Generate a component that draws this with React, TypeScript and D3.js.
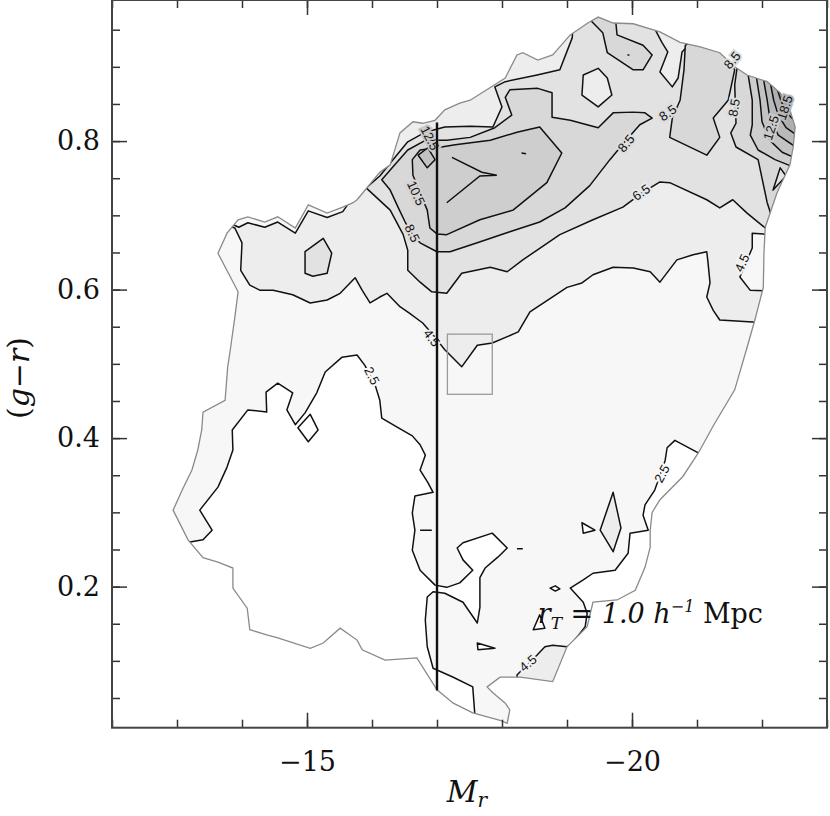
import { useEffect, useRef } from 'react';
import * as d3 from 'd3';

type Pt = [number, number];

// axis ticks
const xMajor = [-15, -20];
const xMinor = [-12, -13, -14, -15, -16, -17, -18, -19, -20, -21, -22, -23];
const yMajor = [0.2, 0.4, 0.6, 0.8];
const yMinor = [0.05, 0.1, 0.15, 0.2, 0.25, 0.3, 0.35, 0.4, 0.45, 0.5, 0.55, 0.6, 0.65, 0.7, 0.75, 0.8, 0.85, 0.9, 0.95];

// edge of the sampled region  [Mr, g-r]
const outline: Pt[] = [[-15.77,0.721],[-16.12,0.758],[-16.28,0.768],[-16.43,0.811],[-16.63,0.826],[-16.78,0.824],[-16.97,0.828],[-17.12,0.842],[-17.35,0.851],[-17.51,0.855],[-18.05,0.885],[-18.23,0.916],[-18.32,0.919],[-18.55,0.909],[-18.78,0.916],[-19.05,0.943],[-19.32,0.959],[-19.48,0.967],[-19.71,0.959],[-20.02,0.958],[-20.43,0.947],[-20.74,0.933],[-21.05,0.927],[-21.35,0.919],[-21.58,0.900],[-21.77,0.889],[-22.08,0.880],[-22.28,0.865],[-22.43,0.842],[-22.51,0.819],[-22.48,0.792],[-22.43,0.768],[-22.23,0.730],[-22.05,0.684],[-22.03,0.649],[-22.02,0.603],[-21.89,0.559],[-21.76,0.519],[-21.58,0.465],[-21.26,0.418],[-21.02,0.380],[-20.78,0.348],[-20.43,0.317],[-20.31,0.300],[-20.28,0.276],[-20.28,0.253],[-20.20,0.226],[-20.05,0.195],[-19.77,0.182],[-19.40,0.179],[-19.31,0.146],[-19.00,0.119],[-18.78,0.072],[-18.28,0.078],[-17.97,0.078],[-17.77,0.065],[-17.86,0.057],[-18.05,0.043],[-18.12,0.034],[-18.08,0.016],[-17.97,0.020],[-17.55,0.030],[-17.25,0.043],[-17.00,0.061],[-16.69,0.104],[-16.20,0.101],[-15.85,0.115],[-15.77,0.128],[-15.51,0.144],[-15.25,0.124],[-15.05,0.117],[-14.55,0.131],[-14.38,0.135],[-14.12,0.142],[-14.08,0.171],[-13.86,0.198],[-13.86,0.225],[-13.63,0.233],[-13.40,0.239],[-13.17,0.263],[-12.94,0.303],[-13.08,0.330],[-13.23,0.357],[-13.32,0.384],[-13.38,0.411],[-13.40,0.435],[-13.74,0.451],[-13.78,0.496],[-13.82,0.519],[-13.89,0.563],[-13.94,0.597],[-13.63,0.649],[-13.77,0.676],[-13.94,0.694],[-14.09,0.698],[-14.35,0.691],[-14.55,0.698],[-14.82,0.683],[-15.02,0.714],[-15.31,0.703],[-15.55,0.711],[-15.71,0.717]];

// below 2.5 (points outside the outline only close the rings)
const lowWest: Pt[] = [[-12.74,0.256],[-13.20,0.260],[-13.40,0.263],[-13.54,0.276],[-13.35,0.303],[-13.63,0.334],[-13.77,0.361],[-13.86,0.384],[-13.85,0.411],[-14.09,0.438],[-14.38,0.435],[-14.37,0.462],[-14.55,0.474],[-14.78,0.461],[-14.69,0.438],[-14.82,0.418],[-14.97,0.434],[-15.15,0.461],[-15.28,0.489],[-15.54,0.509],[-15.77,0.512],[-15.89,0.498],[-16.05,0.471],[-16.12,0.451],[-16.15,0.427],[-16.40,0.414],[-16.62,0.403],[-16.74,0.391],[-16.82,0.377],[-16.74,0.357],[-16.86,0.340],[-16.94,0.327],[-16.66,0.322],[-16.62,0.299],[-16.66,0.276],[-16.62,0.249],[-16.74,0.222],[-16.97,0.202],[-17.15,0.199],[-17.35,0.205],[-17.55,0.222],[-17.40,0.236],[-17.31,0.252],[-17.40,0.259],[-17.85,0.272],[-18.08,0.252],[-17.94,0.240],[-17.74,0.225],[-17.66,0.212],[-17.66,0.172],[-17.62,0.151],[-17.40,0.179],[-17.12,0.191],[-16.94,0.193],[-16.85,0.186],[-16.82,0.155],[-16.85,0.119],[-16.94,0.090],[-17.25,0.078],[-17.55,0.065],[-17.58,0.030],[-17.60,-0.007],[-12.74,-0.007]];
const lowEast: Pt[] = [[-21.51,0.370],[-21.02,0.380],[-20.66,0.397],[-20.54,0.387],[-20.51,0.370],[-20.35,0.330],[-20.20,0.310],[-20.17,0.296],[-20.25,0.276],[-19.97,0.272],[-19.94,0.245],[-19.74,0.222],[-19.40,0.218],[-19.25,0.209],[-19.05,0.198],[-19.25,0.179],[-19.31,0.164],[-19.28,0.146],[-19.12,0.128],[-19.51,0.074],[-21.35,0.182]];

// above 4.5
const above45: Pt[] = [[-13.35,0.700],[-13.89,0.683],[-14.00,0.663],[-13.98,0.626],[-14.12,0.606],[-14.28,0.599],[-14.48,0.599],[-14.78,0.593],[-15.05,0.582],[-15.31,0.586],[-15.51,0.595],[-15.74,0.616],[-15.85,0.599],[-15.97,0.582],[-16.12,0.590],[-16.23,0.595],[-16.43,0.577],[-16.58,0.568],[-16.78,0.555],[-16.94,0.539],[-17.12,0.519],[-17.38,0.496],[-17.62,0.525],[-17.85,0.528],[-18.25,0.543],[-18.43,0.570],[-19.00,0.603],[-19.23,0.609],[-19.40,0.620],[-19.71,0.630],[-20.02,0.629],[-20.28,0.624],[-20.43,0.610],[-20.69,0.640],[-20.94,0.647],[-21.15,0.651],[-21.17,0.636],[-21.20,0.609],[-21.15,0.590],[-21.25,0.572],[-21.35,0.559],[-21.92,0.556],[-22.43,0.546],[-23.05,0.990],[-13.35,0.990]];
const dipEast: Pt[] = [[-21.85,0.676],[-21.85,0.656],[-21.66,0.617],[-21.82,0.599],[-22.43,0.597],[-22.43,0.672]];
const armStrip: Pt[] = [[-13.80,0.690],[-13.95,0.684],[-14.09,0.690],[-14.35,0.684],[-14.55,0.691],[-14.82,0.676],[-15.02,0.706],[-15.31,0.697],[-15.55,0.705],[-15.75,0.730],[-15.75,0.760],[-13.60,0.760]];

// above 6.5
const above65: Pt[] = [[-15.91,0.737],[-16.28,0.707],[-16.48,0.674],[-16.55,0.653],[-16.55,0.626],[-16.74,0.610],[-16.92,0.597],[-17.15,0.595],[-17.38,0.622],[-17.82,0.630],[-18.08,0.624],[-18.32,0.640],[-18.89,0.674],[-19.40,0.694],[-19.86,0.711],[-20.15,0.730],[-20.43,0.745],[-20.58,0.744],[-21.15,0.721],[-21.35,0.710],[-21.55,0.721],[-21.77,0.703],[-22.05,0.683],[-22.58,0.673],[-23.05,0.990],[-19.12,0.990],[-19.08,0.939],[-18.89,0.896],[-18.54,0.889],[-18.05,0.880],[-17.89,0.873],[-18.00,0.846],[-17.86,0.819],[-17.51,0.820],[-17.12,0.819],[-16.82,0.812],[-16.55,0.799],[-16.37,0.780],[-16.12,0.753]];
const armBump: Pt[] = [[-14.97,0.651],[-15.25,0.669],[-15.38,0.649],[-15.31,0.622],[-15.09,0.618],[-14.97,0.622]];
const hexTop: Pt[] = [[-19.25,0.889],[-19.48,0.898],[-19.62,0.885],[-19.69,0.862],[-19.48,0.846],[-19.23,0.862]];
const notchNE: Pt[] = [[-20.28,0.963],[-20.46,0.933],[-20.55,0.920],[-20.43,0.893],[-20.62,0.873],[-20.71,0.885],[-20.77,0.920],[-20.89,0.931],[-20.97,0.956]];

// above 8.5
const core85: Pt[] = [[-16.15,0.748],[-16.28,0.734],[-16.40,0.711],[-16.51,0.691],[-16.62,0.674],[-16.74,0.663],[-17.00,0.651],[-17.20,0.651],[-17.62,0.663],[-18.12,0.678],[-18.58,0.691],[-18.97,0.710],[-19.35,0.740],[-19.66,0.775],[-19.89,0.799],[-20.12,0.822],[-20.31,0.831],[-20.20,0.838],[-20.02,0.839],[-19.71,0.838],[-19.48,0.818],[-19.05,0.828],[-18.77,0.832],[-18.77,0.865],[-18.55,0.871],[-18.12,0.869],[-18.05,0.859],[-18.15,0.835],[-17.89,0.818],[-17.51,0.805],[-17.15,0.801],[-16.82,0.801],[-16.55,0.788],[-16.35,0.768]];
const top85: Pt[] = [[-19.28,0.970],[-19.55,0.946],[-19.62,0.919],[-20.02,0.896],[-20.17,0.896],[-20.31,0.916],[-20.17,0.929],[-19.77,0.943],[-19.74,0.970]];
const ne85: Pt[] = [[-21.05,0.943],[-20.82,0.929],[-20.80,0.896],[-20.74,0.855],[-20.62,0.831],[-20.58,0.805],[-21.15,0.781],[-21.35,0.805],[-21.25,0.831],[-21.48,0.855],[-21.58,0.896],[-21.43,0.916],[-21.32,0.929]];
const rim85: Pt[] = [[-21.63,0.936],[-21.63,0.907],[-21.58,0.876],[-21.60,0.824],[-21.52,0.811],[-21.60,0.792],[-21.94,0.775],[-22.08,0.717],[-22.15,0.698],[-23.05,0.720],[-23.05,0.936]];
const rimIsle: Pt[] = [[-22.17,0.734],[-22.28,0.764],[-22.37,0.753]];

// above 10.5 and up
const core105: Pt[] = [[-17.00,0.791],[-17.28,0.795],[-17.82,0.801],[-18.23,0.812],[-18.58,0.819],[-18.92,0.784],[-18.69,0.744],[-18.17,0.707],[-17.66,0.694],[-17.15,0.674],[-17.00,0.675],[-16.89,0.683],[-16.85,0.707],[-16.74,0.730],[-16.63,0.754],[-16.62,0.775],[-16.74,0.788]];
const knot125: Pt[] = [[-16.71,0.781],[-16.86,0.791],[-16.97,0.775],[-16.85,0.764]];
const corner105: Pt[] = [[-21.78,0.893],[-21.85,0.855],[-21.85,0.822],[-21.82,0.808],[-21.94,0.788],[-22.20,0.775],[-22.46,0.766],[-23.05,0.761],[-23.05,0.936],[-21.78,0.936]];
const corner125: Pt[] = [[-21.91,0.888],[-21.97,0.855],[-22.00,0.826],[-22.12,0.801],[-22.31,0.785],[-22.49,0.778],[-23.05,0.775],[-23.05,0.936],[-21.91,0.936]];
const corner145: Pt[] = [[-22.02,0.885],[-22.08,0.855],[-22.12,0.831],[-22.25,0.808],[-22.52,0.792],[-23.05,0.790],[-23.05,0.936],[-22.02,0.936]];
const corner165: Pt[] = [[-22.12,0.882],[-22.18,0.855],[-22.25,0.835],[-22.37,0.818],[-22.55,0.807],[-23.05,0.800],[-23.05,0.936],[-22.12,0.936]];
const corner185: Pt[] = [[-22.21,0.877],[-22.29,0.855],[-22.37,0.839],[-22.55,0.823],[-23.05,0.820],[-23.05,0.936],[-22.21,0.936]];
const corner205: Pt[] = [[-22.29,0.870],[-22.38,0.851],[-22.55,0.838],[-23.05,0.835],[-23.05,0.936],[-22.29,0.936]];

// small closed contours
const isleA: Pt[] = [[-14.86,0.414],[-15.05,0.432],[-15.17,0.411],[-15.02,0.395]];
const isleB: Pt[] = [[-18.48,0.142],[-18.58,0.162],[-18.66,0.144]];
const isleC: Pt[] = [[-17.62,0.124],[-17.89,0.117],[-17.63,0.115]];
const isleD: Pt[] = [[-18.74,0.198],[-18.82,0.201],[-18.89,0.197],[-18.82,0.194]];
const isleE: Pt[] = [[-19.23,0.286],[-19.43,0.276],[-19.25,0.272]];
const bumpF: Pt[] = [[-19.51,0.276],[-19.71,0.327],[-19.83,0.279],[-19.71,0.247]];
const bumpG: Pt[] = [[-19.00,0.119],[-18.78,0.121],[-18.66,0.119],[-18.54,0.108],[-18.23,0.081],[-18.28,0.047],[-19.20,0.047],[-19.20,0.128]];

// open bits of contour
const spike: Pt[] = [[-17.23,0.778],[-17.69,0.758],[-17.92,0.754],[-17.66,0.753],[-17.15,0.717]];
const dashA: Pt[] = [[-16.74,0.276],[-16.92,0.276]];
const dashB: Pt[] = [[-18.23,0.251],[-18.32,0.251]];
const dotA: Pt[] = [[-19.93,0.916],[-19.96,0.916]];
const dotB: Pt[] = [[-18.30,0.784],[-18.37,0.783]];

const layers: { level: number; ring: Pt[] }[] = [
  { level: 0, ring: lowWest }, { level: 0, ring: lowEast },
  { level: 4.5, ring: above45 }, { level: 2.5, ring: dipEast }, { level: 2.5, ring: armStrip },
  { level: 6.5, ring: above65 }, { level: 6.5, ring: armBump },
  { level: 4.5, ring: hexTop }, { level: 4.5, ring: notchNE },
  { level: 8.5, ring: core85 }, { level: 8.5, ring: top85 }, { level: 8.5, ring: ne85 }, { level: 8.5, ring: rim85 },
  { level: 6.5, ring: rimIsle },
  { level: 10.5, ring: core105 }, { level: 12.5, ring: knot125 },
  { level: 10.5, ring: corner105 }, { level: 12.5, ring: corner125 }, { level: 14.5, ring: corner145 },
  { level: 16.5, ring: corner165 }, { level: 18.5, ring: corner185 }, { level: 20.5, ring: corner205 },
  { level: 0, ring: isleA }, { level: 0, ring: isleB }, { level: 0, ring: isleC }, { level: 0, ring: isleD },
  { level: 0, ring: isleE }, { level: 4.5, ring: bumpF }, { level: 4.5, ring: bumpG },
];

// contour labels: text, Mr, g-r, angle, shade behind
const labels: [string, number, number, number, number][] = [
  ['2.5', -16.00, 0.484, 63, 1.5], ['4.5', -16.92, 0.535, 52, 3.5], ['8.5', -16.62, 0.676, 65, 7.5],
  ['10.5', -16.68, 0.730, 65, 9.5], ['12.5', -16.89, 0.804, 62, 11.5], ['6.5', -20.14, 0.731, -34, 5.5],
  ['8.5', -19.91, 0.797, -50, 7.5], ['8.5', -20.55, 0.838, -35, 7.5], ['8.5', -21.54, 0.909, -50, 7.5],
  ['8.5', -21.57, 0.845, -80, 7.5], ['4.5', -21.69, 0.636, -65, 3.5], ['2.5', -20.46, 0.352, -62, 1.5],
  ['4.5', -18.40, 0.097, -40, 3.5], ['18.5', -22.35, 0.845, -72, 15], ['12.5', -22.14, 0.818, -72, 11],
];

const Chart = () => {
  const ref = useRef<SVGSVGElement>(null);
  useEffect(() => {
    const svg = d3.select(ref.current);
    svg.selectAll('*').remove();

    const x = d3.scaleLinear().domain([-12, -23]).range([112, 827]);
    const y = d3.scaleLinear().domain([0.01, 0.99]).range([727.7, 0]);
    const shade = d3.scaleLinear<string>().domain([0, 2.5, 20.5]).range(['#ffffff', '#f7f7f7', '#9a9a9a']).clamp(true);
    const ring = d3.line<Pt>().x(d => x(d[0])).y(d => y(d[1])).curve(d3.curveLinearClosed);
    const line = d3.line<Pt>().x(d => x(d[0])).y(d => y(d[1]));

    svg.append('defs').append('clipPath').attr('id', 'blob')
      .append('path').attr('d', ring(outline));

    const g = svg.append('g').attr('clip-path', 'url(#blob)');
    g.append('path').attr('d', ring(outline)).attr('fill', shade(2.5));
    layers.forEach(l => {
      g.append('path').attr('d', ring(l.ring))
        .attr('fill', shade(l.level))
        .attr('stroke', '#111').attr('stroke-width', 1.5).attr('stroke-linejoin', 'round');
    });
    [spike, dashA, dashB, dotA, dotB].forEach(p => {
      g.append('path').attr('d', line(p)).attr('fill', 'none')
        .attr('stroke', '#111').attr('stroke-width', 1.5);
    });

    svg.append('path').attr('d', ring(outline)).attr('fill', 'none')
      .attr('stroke', '#8a8a8a').attr('stroke-width', 1.3);

    // contour labels
    labels.forEach(([t, mr, gr, a, lv]) => {
      svg.append('text').text(t)
        .attr('transform', `translate(${x(mr)},${y(gr)}) rotate(${a})`)
        .attr('text-anchor', 'middle').attr('dy', '0.35em')
        .style('font-family', '"Liberation Sans", Arial, sans-serif').style('font-size', '13px')
        .attr('fill', '#111').attr('stroke', shade(lv)).attr('stroke-width', 4)
        .attr('paint-order', 'stroke');
    });

    // cut at Mr = -17 and the box
    svg.append('line')
      .attr('x1', x(-17)).attr('x2', x(-17)).attr('y1', y(0.825)).attr('y2', y(0.06))
      .attr('stroke', '#111').attr('stroke-width', 2.4);
    svg.append('rect')
      .attr('x', x(-17.16)).attr('y', y(0.540))
      .attr('width', x(-17.85) - x(-17.16)).attr('height', y(0.459) - y(0.540))
      .attr('fill', 'none').attr('stroke', '#9a9a9a').attr('stroke-width', 1.3);

    // r_T annotation
    const note = svg.append('text').attr('x', x(-18.55)).attr('y', y(0.151))
      .style('font-family', '"DejaVu Serif", serif').style('font-size', '27px').attr('fill', '#111');
    note.append('tspan').text('r').style('font-style', 'italic');
    note.append('tspan').text('T').style('font-style', 'italic').style('font-size', '17px').attr('dy', 6);
    note.append('tspan').text(' = ').attr('dy', -6);
    note.append('tspan').text('1.0 h').style('font-style', 'italic');
    note.append('tspan').text('−1').style('font-style', 'italic').style('font-size', '16px').attr('dy', -11);
    note.append('tspan').text(' Mpc').attr('dy', 11);

    // axes
    const tickFont = (sel: any) => sel.selectAll('text')
      .style('font-family', '"DejaVu Serif", serif').style('font-size', '27px').attr('fill', '#111');
    const clean = (sel: any) => {
      sel.select('.domain').remove();
      sel.selectAll('line').attr('stroke', '#333').attr('stroke-width', 1.5);
    };
    const bottom = svg.append('g').attr('transform', `translate(0,${y(0.01)})`);
    bottom.append('g').call(d3.axisBottom(x).tickValues(xMinor).tickSize(-8).tickFormat(() => '')).call(clean);
    bottom.append('g').call(d3.axisBottom(x).tickValues(xMajor).tickSize(-15).tickPadding(24)
      .tickFormat(d => `−${Math.abs(+d)}`)).call(clean).call(tickFont);
    const top = svg.append('g').attr('transform', `translate(0,${y(0.99)})`);
    top.append('g').call(d3.axisTop(x).tickValues(xMinor).tickSize(-8).tickFormat(() => '')).call(clean);
    top.append('g').call(d3.axisTop(x).tickValues(xMajor).tickSize(-15).tickFormat(() => '')).call(clean);
    const left = svg.append('g').attr('transform', `translate(${x(-12)},0)`);
    left.append('g').call(d3.axisLeft(y).tickValues(yMinor).tickSize(-8).tickFormat(() => '')).call(clean);
    left.append('g').call(d3.axisLeft(y).tickValues(yMajor).tickSize(-15).tickPadding(12)
      .tickFormat(d3.format('.1f'))).call(clean).call(tickFont);
    const right = svg.append('g').attr('transform', `translate(${x(-23)},0)`);
    right.append('g').call(d3.axisRight(y).tickValues(yMinor).tickSize(-8).tickFormat(() => '')).call(clean);
    right.append('g').call(d3.axisRight(y).tickValues(yMajor).tickSize(-15).tickFormat(() => '')).call(clean);

    svg.append('rect')
      .attr('x', x(-12)).attr('y', y(0.99))
      .attr('width', x(-23) - x(-12)).attr('height', y(0.01) - y(0.99))
      .attr('fill', 'none').attr('stroke', '#444').attr('stroke-width', 2);

    // titles
    const xt = svg.append('text').attr('x', 467).attr('y', 802).attr('text-anchor', 'middle')
      .style('font-family', '"DejaVu Serif", serif').style('font-size', '30px').attr('fill', '#111');
    xt.append('tspan').text('M').style('font-style', 'italic');
    xt.append('tspan').text('r').style('font-style', 'italic').style('font-size', '20px').attr('dy', 5);

    const yt = svg.append('text').attr('transform', 'translate(29,378) rotate(-90)').attr('text-anchor', 'middle')
      .style('font-family', '"DejaVu Serif", serif').style('font-size', '30px').attr('fill', '#111');
    yt.append('tspan').text('(');
    yt.append('tspan').text('g').style('font-style', 'italic');
    yt.append('tspan').text('−');
    yt.append('tspan').text('r').style('font-style', 'italic');
    yt.append('tspan').text(')');
  }, []);

  return (
    <div style={{ position: 'absolute', left: 0, top: 0 }}>
      <svg ref={ref} width={830} height={816} style={{ display: 'block', background: '#fff' }} />
    </div>
  );
};

export default function App() {
  return <Chart />;
}
